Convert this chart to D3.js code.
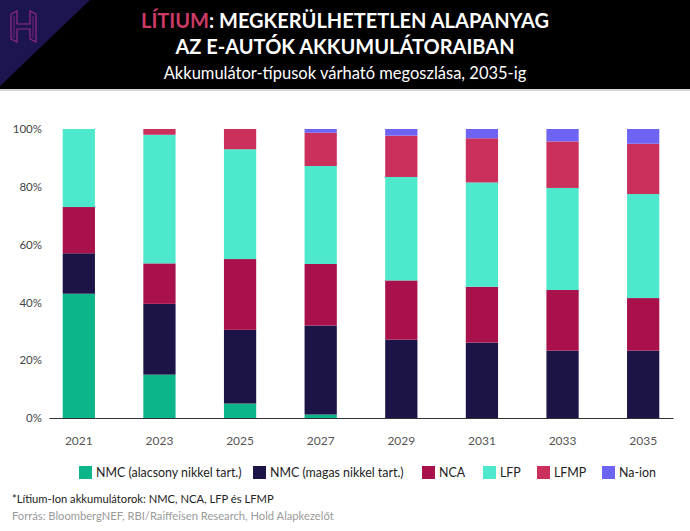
<!DOCTYPE html>
<html>
<head>
<meta charset="utf-8">
<script src="https://cdn.jsdelivr.net/npm/d3@7"></script>
<style>
  html, body { margin: 0; padding: 0; background: #fff; }
  svg { display: block; font-family: Lato, "Open Sans", sans-serif; }
</style>
</head>
<body>
<svg id="chart" width="690" height="531"></svg>
<script>
const years = ["2021", "2023", "2025", "2027", "2029", "2031", "2033", "2035"];
const seriesNames = ["NMC (alacsony nikkel tart.)", "NMC (magas nikkel tart.)", "NCA", "LFP", "LFMP", "Na-ion"];
const seriesColors = ["#0db58b", "#1c1446", "#a8114b", "#4ee8cc", "#cb305d", "#6d64f3"];
const nmcLow  = [43, 15, 5, 1.2, 0, 0, 0, 0];
const nmcHigh = [14, 24.5, 25.5, 30.8, 27.1, 26.1, 23.3, 23.3];
const nca     = [16, 14, 24.5, 21.3, 20.5, 19.3, 21, 18.2];
const lfp     = [27, 44.5, 38, 33.9, 35.8, 36.1, 35.3, 36];
const lfmp    = [0, 2, 7, 11.5, 14.3, 15.3, 16.1, 17.4];
const naIon   = [0, 0, 0, 1.3, 2.3, 3.2, 4.3, 5.1];
const yTicks = [0, 20, 40, 60, 80, 100];

const allSeries = [nmcLow, nmcHigh, nca, lfp, lfmp, naIon];
const rows = years.map((y, i) => {
  const r = { year: y };
  seriesNames.forEach((n, k) => r[n] = allSeries[k][i]);
  return r;
});

const svg = d3.select("#chart");
const W = 690, H = 531;

// Header
svg.append("rect").attr("x", 0).attr("y", 0).attr("width", W).attr("height", 89).attr("fill", "#000");
svg.append("path").attr("d", "M0,0 L90,0 L0,86 Z").attr("fill", "#1d1550");
svg.append("rect").attr("x", 0).attr("y", 89).attr("width", W).attr("height", 2).attr("fill", "#d6d6d6");
// Logo (outlined H)
const logo = svg.append("g").attr("fill", "none").attr("stroke", "#932a86").attr("stroke-width", 1.2);
logo.append("path").attr("d", "M11,14 L17,11 L17,24 L30,24 L30,11 L36,14 L36,42 L30,39 L30,29 L17,29 L17,42 L11,39 Z");
logo.append("path").attr("d", "M14,16 L14,38 M33,16 L33,38").attr("stroke-width", 0.8);

const title1 = svg.append("text").attr("x", W / 2).attr("y", 28).attr("text-anchor", "middle")
  .attr("font-size", 20).attr("font-weight", 700).attr("fill", "#fff");
title1.append("tspan").attr("fill", "#cc3a66").text("LÍTIUM");
title1.append("tspan").text(": MEGKERÜLHETETLEN ALAPANYAG");
svg.append("text").attr("x", W / 2).attr("y", 54).attr("text-anchor", "middle")
  .attr("font-size", 20).attr("font-weight", 700).attr("fill", "#fff")
  .text("AZ E-AUTÓK AKKUMULÁTORAIBAN");
svg.append("text").attr("x", W / 2).attr("y", 79).attr("text-anchor", "middle")
  .attr("font-size", 16.5).attr("fill", "#fff")
  .text("Akkumulátor-típusok várható megoszlása, 2035-ig");

// Scales
const x = d3.scaleBand().domain(years).range([49, 673]).paddingInner(0.6).paddingOuter(0.17);
const y = d3.scaleLinear().domain([0, 100]).range([418, 129]);
const color = d3.scaleOrdinal().domain(seriesNames).range(seriesColors);

const stack = d3.stack().keys(seriesNames);
const stacked = stack(rows);

svg.append("g").selectAll("g").data(stacked).join("g")
  .attr("fill", d => color(d.key))
  .selectAll("rect").data(d => d).join("rect")
  .attr("x", d => x(d.data.year))
  .attr("width", x.bandwidth())
  .attr("y", d => y(d[1]))
  .attr("height", d => Math.max(0, y(d[0]) - y(d[1])));

// Y axis
const yAxis = d3.axisLeft(y).tickValues(yTicks).tickFormat(d => d + "%").tickSize(0).tickPadding(0);
const gy = svg.append("g").attr("transform", "translate(42,0)").call(yAxis);
gy.select(".domain").remove();
gy.selectAll("text").attr("font-size", 11.5).attr("fill", "#444").attr("font-family", "Lato, sans-serif");

// X axis
const xAxis = d3.axisBottom(x).tickSize(0).tickPadding(18);
const gx = svg.append("g").attr("transform", "translate(0,418)").call(xAxis);
gx.select(".domain").attr("stroke", "#333").attr("stroke-width", 1);
gx.selectAll("text").attr("font-size", 12).attr("fill", "#555").attr("font-family", "Lato, sans-serif");

// Legend
const legendX = [79, 253, 422, 483, 537, 602];
const lg = svg.append("g").selectAll("g").data(seriesNames).join("g")
  .attr("transform", (d, i) => `translate(${legendX[i]},466)`);
lg.append("rect").attr("width", 13).attr("height", 13).attr("fill", d => color(d));
lg.append("text").attr("x", 17).attr("y", 11).attr("font-size", 12.4).attr("fill", "#222").text(d => d);

// Footnotes
svg.append("text").attr("x", 12).attr("y", 503).attr("font-size", 11.2).attr("fill", "#222")
  .text("*Lítium-Ion akkumulátorok: NMC, NCA, LFP és LFMP");
svg.append("text").attr("x", 12).attr("y", 520).attr("font-size", 11.2).attr("fill", "#9a9a9a")
  .text("Forrás: BloombergNEF, RBI/Raiffeisen Research, Hold Alapkezelőt");
</script>
</body>
</html>
